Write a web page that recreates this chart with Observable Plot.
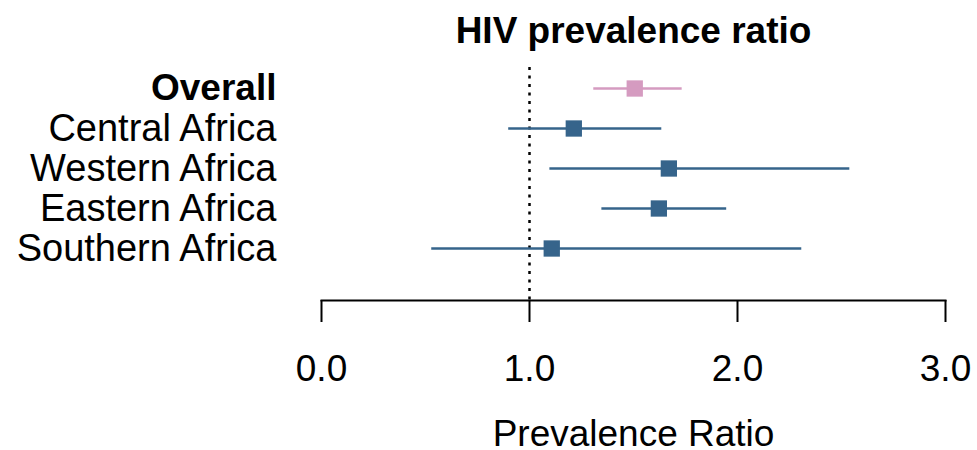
<!DOCTYPE html>
<html>
<head>
<meta charset="utf-8">
<script src="https://cdn.jsdelivr.net/npm/d3@7"></script>
<script src="https://cdn.jsdelivr.net/npm/@observablehq/plot@0.6"></script>
<style>
  html, body { margin: 0; padding: 0; background: white; }
  svg { display: block; }
</style>
</head>
<body>
<div id="chart"></div>
<script>
const regions = ["Overall", "Central Africa", "Western Africa", "Eastern Africa", "Southern Africa"];
const ratio = [1.506, 1.213, 1.670, 1.622, 1.107];
const lower = [1.309, 0.900, 1.098, 1.348, 0.530];
const upper = [1.734, 1.636, 2.540, 1.948, 2.309];
const groupColor = ["#D59BC0", "#36648B", "#36648B", "#36648B", "#36648B"];
const xTicks = [0, 1, 2, 3];
const refValue = 1;
const titleText = "HIV prevalence ratio";
const xLabel = "Prevalence Ratio";

const data = regions.map((r, i) => ({region: r, pr: ratio[i], lo: lower[i], hi: upper[i], color: groupColor[i]}));
const font = "'Liberation Sans', Arial, Helvetica, sans-serif";

const chart = Plot.plot({
  width: 977,
  height: 450,
  marginLeft: 321,
  marginRight: 32,
  marginTop: 67,
  marginBottom: 150,
  style: {fontFamily: font, fontSize: "37px", color: "black", background: "white", overflow: "visible"},
  x: {domain: [0, 3], axis: null},
  y: {domain: regions, range: [88, 248], padding: 0, axis: null},
  color: {type: "identity"},
  marks: [
    Plot.ruleX([refValue], {stroke: "black", strokeWidth: 2.5, strokeDasharray: "3,5.5"}),
    Plot.frame({anchor: "bottom", stroke: "black", strokeWidth: 2}),
    Plot.axisX(xTicks, {anchor: "bottom", tickSize: 22, tickPadding: 32, strokeWidth: 2, fontSize: 37, tickFormat: d3.format(".1f"), label: null}),
    Plot.ruleY(data, {y: "region", x1: "lo", x2: "hi", stroke: "color", strokeWidth: 2.5}),
    Plot.dot(data, {x: "pr", y: "region", symbol: "square", r: 9.2, fill: "color", stroke: null}),
    Plot.text(data.filter(d => d.region === "Overall"), {y: "region", text: "region", frameAnchor: "left", dx: -45, textAnchor: "end", fontWeight: "bold", fontSize: 37, fill: "black"}),
    Plot.text(data.filter(d => d.region !== "Overall"), {y: "region", text: "region", frameAnchor: "left", dx: -45, textAnchor: "end", fontSize: 38, fill: "black"}),
    Plot.text([titleText], {frameAnchor: "top", dy: -25, lineAnchor: "bottom", fontWeight: "bold", fontSize: 37, fill: "black"}),
    Plot.text([xLabel], {frameAnchor: "bottom", dy: 145, lineAnchor: "bottom", fontSize: 37, fill: "black"})
  ]
});
document.getElementById("chart").appendChild(chart);
</script>
</body>
</html>
